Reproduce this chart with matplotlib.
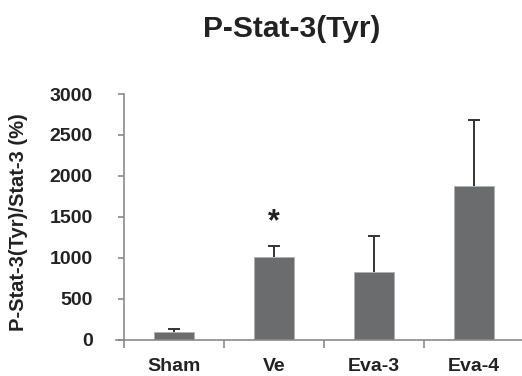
import matplotlib
matplotlib.use("Agg")
import matplotlib.pyplot as plt
import numpy as np

categories = ["Sham", "Ve", "Eva-3", "Eva-4"]
values = [90, 1010, 820, 1875]
errors = [35, 135, 445, 810]
star_labels = ["", "*", "", ""]
star_y = [0, 1430, 0, 0]
yticks = [0, 500, 1000, 1500, 2000, 2500, 3000]

plt.rcParams['font.family'] = ['Liberation Sans', 'DejaVu Sans']

W, H = 522, 376
fig = plt.figure(figsize=(W/100, H/100), dpi=100)
left = 124/W
right = 524/W
bottom = 1 - 339.5/H
top = 1 - 94/H
ax = fig.add_axes([left, bottom, right-left, top-bottom])

x = np.arange(len(categories))
bar_color = '#6b6c6e'
ax.bar(x, values, width=0.4, color=bar_color, edgecolor='#b0b0b0', linewidth=0.6, zorder=2)
eb = ax.errorbar(x, values, yerr=[np.zeros(len(errors)), errors], fmt='none',
                 ecolor='#333333', elinewidth=1.4, capsize=4.5, capthick=1.4, zorder=3)
caplines = eb[1]
if len(caplines) >= 2:
    caplines[0].set_visible(False)

for xi, s, sy in zip(x, star_labels, star_y):
    if s:
        ax.text(xi, sy, s, ha='center', va='center', fontsize=22,
                fontweight='bold', color='#222222')

ax.set_xlim(-0.5, 3.5)
ax.set_ylim(0, 3000)
ax.set_yticks(yticks)
ax.set_yticklabels([str(t) for t in yticks], fontsize=14, fontweight='bold', color='#222222')

ax.set_xticks([-0.5, 0.5, 1.5, 2.5])
ax.set_xticklabels([])
ax.set_xticks(x, minor=True)
ax.set_xticklabels(categories, minor=True, fontsize=14, fontweight='bold', color='#222222')
ax.tick_params(axis='x', which='major', length=6, width=1.2, color='#8a8a8a', direction='out')
ax.tick_params(axis='x', which='minor', length=0, pad=13.5)
ax.tick_params(axis='y', length=4.5, width=1.2, color='#8a8a8a', direction='out', pad=18)

for sp in ['top', 'right']:
    ax.spines[sp].set_visible(False)
for sp in ['left', 'bottom']:
    ax.spines[sp].set_color('#8a8a8a')
    ax.spines[sp].set_linewidth(1.2)
ax.spines['bottom'].set_bounds(-0.58, 3.5)

fig.text(18.5/W, 1 - 222.5/H, "P-Stat-3(Tyr)/Stat-3 (%)", rotation=90, ha='center', va='center',
         fontsize=14.5, fontweight='bold', color='#222222')

fig.text(291.7/W, 1 - 37/H, "P-Stat-3(Tyr)", ha='center', va='baseline', fontsize=21.5,
         fontweight='bold', color='#222222')

fig.savefig("out.png", dpi=100)
